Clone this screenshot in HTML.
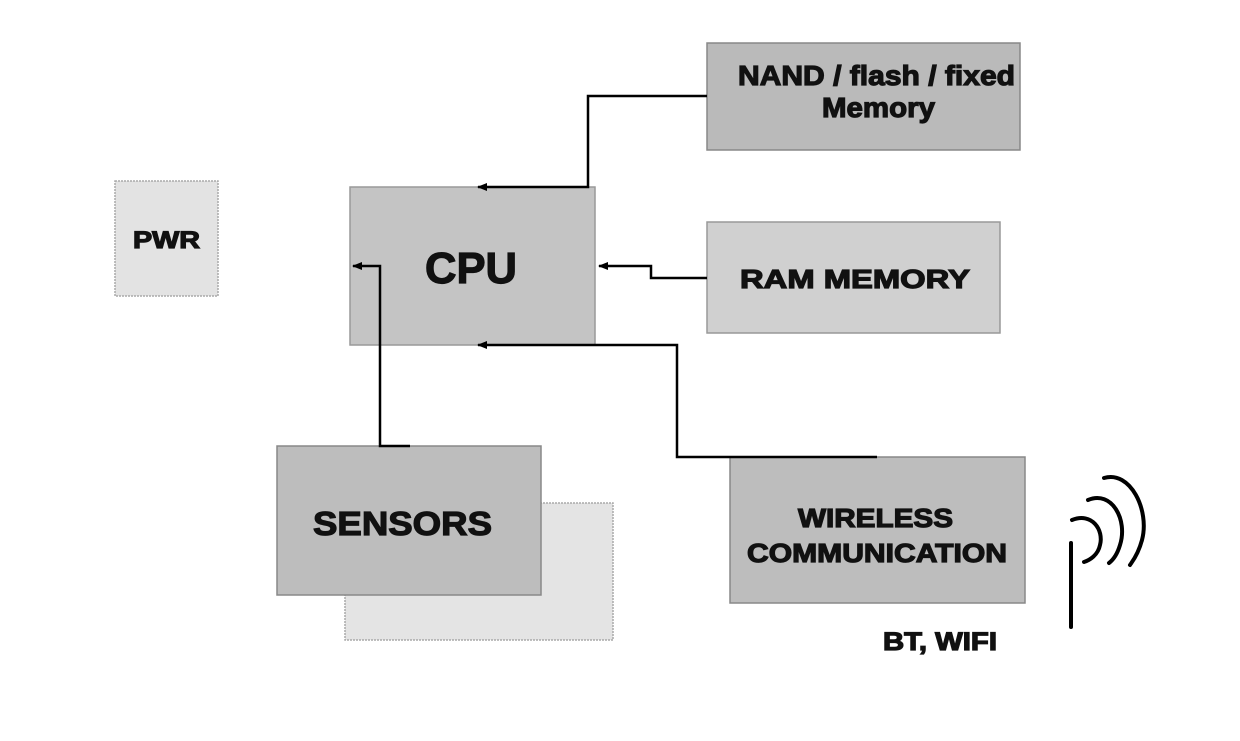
<!DOCTYPE html>
<html><head><meta charset="utf-8"><style>
html,body{margin:0;padding:0;background:#fff;}
svg{display:block;}
text{font-family:"Liberation Sans",Arial,sans-serif;font-weight:bold;fill:#111;stroke:#111;stroke-width:1.2;}
</style></head><body>
<svg width="1240" height="741" viewBox="0 0 1240 741" xmlns="http://www.w3.org/2000/svg">
<defs>
<marker id="a" markerWidth="10" markerHeight="8" refX="9" refY="4" orient="auto" markerUnits="userSpaceOnUse">
<path d="M0,0 L10,4 L0,8 z" fill="#000"/></marker>
</defs>
<rect x="115" y="181" width="103" height="115" fill="#e3e3e3" stroke="#aaa" stroke-width="1.5" stroke-dasharray="2,1"/>
<rect x="345" y="503" width="268" height="137" fill="#e4e4e4" stroke="#aaa" stroke-width="1.5" stroke-dasharray="2,1"/>
<rect x="277" y="446" width="264" height="149" fill="#bdbdbd" stroke="#888" stroke-width="1.5"/>
<rect x="350" y="187" width="245" height="158" fill="#c4c4c4" stroke="#999" stroke-width="1.5"/>
<rect x="707" y="43" width="313" height="107" fill="#bababa" stroke="#888" stroke-width="1.5"/>
<rect x="707" y="222" width="293" height="111" fill="#d0d0d0" stroke="#999" stroke-width="1.5"/>
<rect x="730" y="457" width="295" height="146" fill="#bdbdbd" stroke="#888" stroke-width="1.5"/>
<g fill="none" stroke="#000" stroke-width="2.5">
<path d="M707,96 H588 V187 H478" marker-end="url(#a)"/>
<path d="M707,278 H651 V266 H599" marker-end="url(#a)"/>
<path d="M410,446 H380 V266 H353" marker-end="url(#a)"/>
<path d="M877,457 H677 V345 H478" marker-end="url(#a)"/>
</g>
<g fill="none" stroke="#000" stroke-width="4" stroke-linecap="round">
<path d="M1071,543 V627"/>
<path d="M1072,520 C1092,512 1104,530 1100,545 C1098,555 1090,560 1084,562"/>
<path d="M1088,500 C1112,490 1128,520 1120,545 C1117,555 1113,560 1109,563"/>
<path d="M1104,478 C1130,470 1150,510 1142,540 C1138,555 1132,562 1130,565"/>
</g>
<text x="133" y="248" font-size="24" textLength="67" lengthAdjust="spacingAndGlyphs">PWR</text>
<text x="425" y="283" font-size="44" textLength="92" lengthAdjust="spacingAndGlyphs">CPU</text>
<text x="738" y="85" font-size="28" textLength="277" lengthAdjust="spacingAndGlyphs">NAND / flash / fixed</text>
<text x="822" y="117" font-size="28" textLength="113" lengthAdjust="spacingAndGlyphs">Memory</text>
<text x="740" y="288" font-size="26" textLength="230" lengthAdjust="spacingAndGlyphs">RAM  MEMORY</text>
<text x="313" y="535" font-size="33" textLength="179" lengthAdjust="spacingAndGlyphs">SENSORS</text>
<text x="798" y="527" font-size="26" textLength="155" lengthAdjust="spacingAndGlyphs">WIRELESS</text>
<text x="747" y="562" font-size="26" textLength="260" lengthAdjust="spacingAndGlyphs">COMMUNICATION</text>
<text x="883" y="650" font-size="25" textLength="114" lengthAdjust="spacingAndGlyphs">BT, WIFI</text>
</svg>
</body></html>
